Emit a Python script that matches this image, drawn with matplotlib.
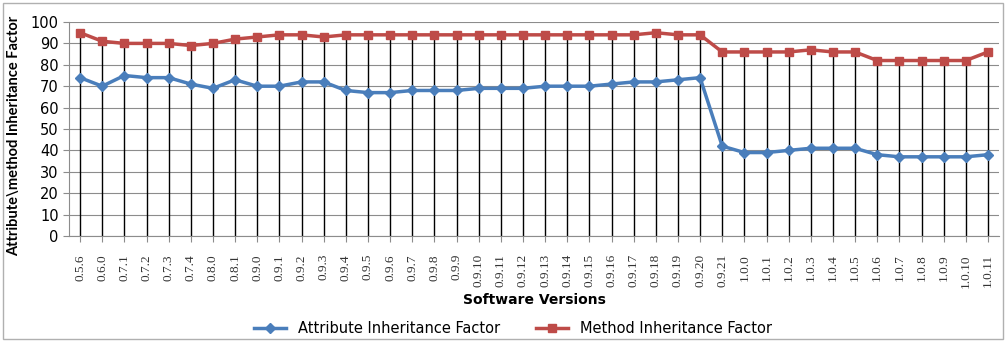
import matplotlib.pyplot as plt
import numpy as np

versions = ['0.5.6', '0.6.0', '0.7.1', '0.7.2', '0.7.3', '0.7.4', '0.8.0', '0.8.1',
            '0.9.0', '0.9.1', '0.9.2', '0.9.3', '0.9.4', '0.9.5', '0.9.6', '0.9.7',
            '0.9.8', '0.9.9', '0.9.10', '0.9.11', '0.9.12', '0.9.13', '0.9.14',
            '0.9.15', '0.9.16', '0.9.17', '0.9.18', '0.9.19', '0.9.20', '0.9.21',
            '1.0.0', '1.0.1', '1.0.2', '1.0.3', '1.0.4', '1.0.5', '1.0.6', '1.0.7',
            '1.0.8', '1.0.9', '1.0.10', '1.0.11']
attr_factor = [74, 70, 75, 74, 74, 71, 69, 73, 70, 70, 72, 72, 68, 67, 67, 68,
               68, 68, 69, 69, 69, 70, 70, 70, 71, 72, 72, 73, 74, 42,
               39, 39, 40, 41, 41, 41, 38, 37, 37, 37, 37, 38]
method_factor = [95, 91, 90, 90, 90, 89, 90, 92, 93, 94, 94, 93, 94, 94, 94, 94,
                 94, 94, 94, 94, 94, 94, 94, 94, 94, 94, 95, 94, 94, 86,
                 86, 86, 86, 87, 86, 86, 82, 82, 82, 82, 82, 86]

x = np.arange(len(versions))
top = np.maximum(attr_factor, method_factor)

fig = plt.figure(figsize=(10.06, 3.42), dpi=100)
fig.patches.append(plt.Rectangle((0.003, 0.01), 0.994, 0.982, transform=fig.transFigure,
                                 fill=False, edgecolor='#b0b0b0', linewidth=1))
ax = fig.add_axes([69 / 1006, 1 - 236 / 342, 930 / 1006, 214 / 342])

ax.set_ylim(0, 100)
ax.set_xlim(-0.5, len(versions) - 0.5)
ax.set_yticks(range(0, 101, 10))
ax.yaxis.grid(True, color='#8c8c8c', linewidth=0.8)
ax.set_axisbelow(True)

# drop lines from the highest point down to the axis
ax.vlines(x, 0, top, color='black', linewidth=1.0, zorder=2)

ax.plot(x, attr_factor, color='#4a7ebb', marker='D', markersize=5.5, linewidth=2.5,
        label='Attribute Inheritance Factor', zorder=3)
ax.plot(x, method_factor, color='#be4b48', marker='s', markersize=5.5, linewidth=2.5,
        label='Method Inheritance Factor', zorder=3)

for s in ['top', 'right']:
    ax.spines[s].set_visible(False)
ax.spines['left'].set_color('#8c8c8c')
ax.spines['bottom'].set_color('#8c8c8c')

ax.set_xticks(x)
ax.set_xticklabels(versions, rotation=90, fontsize=9.5, family='Liberation Serif', color='#333333')
ax.tick_params(axis='x', length=4, color='#8c8c8c', pad=9)
ax.tick_params(axis='y', labelsize=10.5, length=4, color='#8c8c8c')

ax.set_xlabel('Software Versions', fontsize=10, fontweight='bold', labelpad=4)
ax.set_ylabel('Attribute\\method Inheritance Factor', fontsize=10.5, fontweight='bold',
              family='Lato')
ax.yaxis.set_label_coords(-0.052, 0.47)

fig.legend(loc='lower center', bbox_to_anchor=(0.51, -0.02), ncol=2, frameon=False,
           fontsize=10.5, handlelength=2.2, columnspacing=2.5)

fig.savefig('out.png', dpi=100)
